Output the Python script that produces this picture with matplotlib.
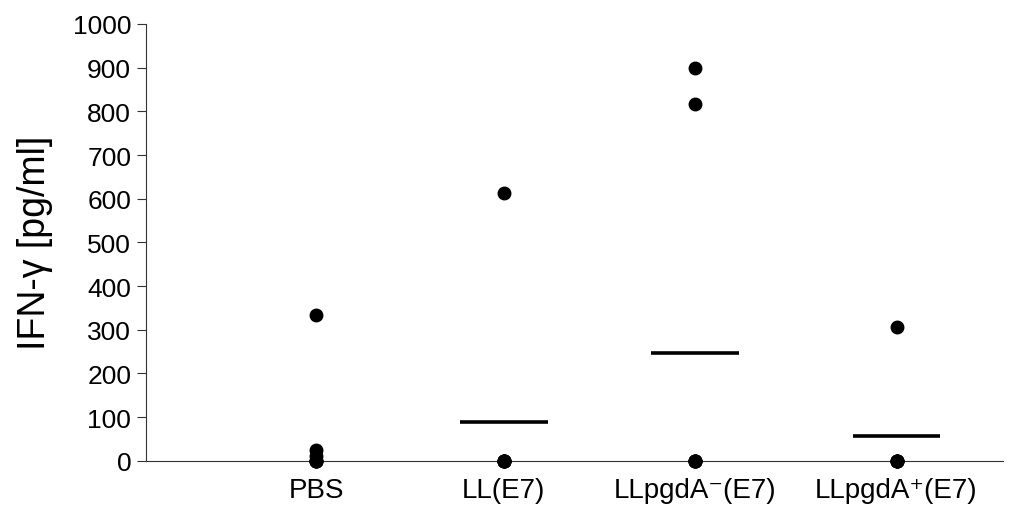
import matplotlib.pyplot as plt

# --- data ---
groups = ['PBS', 'LL(E7)', 'LLpgdA\u207b(E7)', 'LLpgdA\u207a(E7)']
group_pos = [0.88, 1.85, 2.84, 3.88]
pbs_vals = [334, 25, 10, 0, 0, 0, 0]
ll_vals = [613, 0, 0, 0, 0, 0, 0]
pgda_minus_vals = [900, 816, 0, 0, 0, 0, 0]
pgda_plus_vals = [307, 0, 0, 0, 0, 0]
group_means = [None, 88, 246, 57]
y_ticks = [0, 100, 200, 300, 400, 500, 600, 700, 800, 900, 1000]

plt.rcParams['font.family'] = ['Liberation Sans', 'DejaVu Sans']

fig = plt.figure(figsize=(10.1, 5.06), dpi=100)
ax = fig.add_axes([0.1443, 0.0875, 0.8487, 0.8631])

all_vals = [pbs_vals, ll_vals, pgda_minus_vals, pgda_plus_vals]
for pos, vals, m in zip(group_pos, all_vals, group_means):
    ax.plot([pos] * len(vals), vals, 'o', color='black', ms=9, clip_on=False, zorder=3)
    if m is not None:
        ax.plot([pos - 0.227, pos + 0.227], [m, m], color='black', lw=2.6, solid_capstyle='butt')

ax.set_xlim(0, 4.43)
ax.set_ylim(0, 1000)
ax.set_yticks(y_ticks)
ax.tick_params(axis='y', labelsize=19, length=6.5, width=0.8, direction='out', pad=4, color='#333333')
ax.set_xticks(group_pos)
ax.set_xticklabels(groups)
ax.tick_params(axis='x', labelsize=20, length=0, pad=12)
ax.set_ylabel('IFN-γ [pg/ml]', fontsize=27, labelpad=14)

for side in ['top', 'right']:
    ax.spines[side].set_visible(False)
for side in ['left', 'bottom']:
    ax.spines[side].set_linewidth(0.8)
    ax.spines[side].set_color('#333333')

fig.savefig('out.png', dpi=100)
